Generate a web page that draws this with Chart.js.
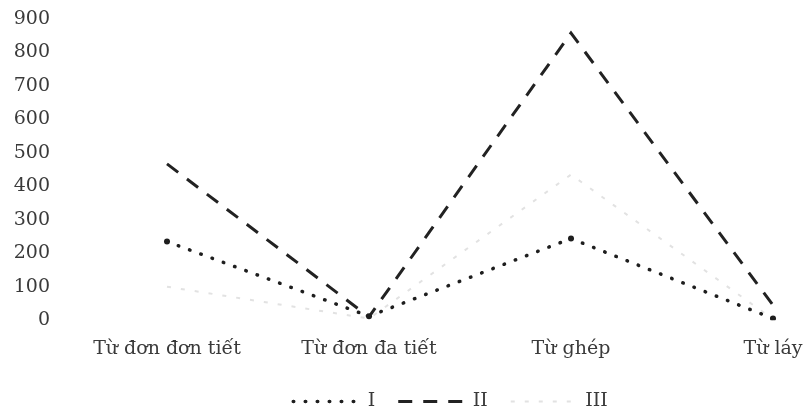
<!DOCTYPE html>
<html>
<head>
<meta charset="utf-8">
<script src="https://cdn.jsdelivr.net/npm/chart.js@4"></script>
<style>
  html, body { margin: 0; padding: 0; background: #ffffff; }
  #wrap { width: 803px; height: 412px; }
</style>
</head>
<body>
<div id="wrap"><canvas id="c" width="803" height="412"></canvas></div>
<script>
const categories = ['Từ đơn đơn tiết', 'Từ đơn đa tiết', 'Từ ghép', 'Từ láy'];
const seriesNames = ['I', 'II', 'III'];
const seriesI = [235, 12, 244, 5];
const seriesII = [467, 10, 858, 45];
const seriesIII = [100, 5, 435, 3];
const yTicks = [0, 100, 200, 300, 400, 500, 600, 700, 800, 900];

const textColor = '#3a3a3a';
const serif = 'DejaVu Serif';

const legendShift = {
  id: 'legendShift',
  afterLayout(chart) {
    const l = chart.legend;
    if (l) { l.left += 43; l.right += 43; l.top -= 8; l.bottom -= 8; }
  }
};

new Chart(document.getElementById('c'), {
  type: 'line',
  data: {
    labels: categories,
    datasets: [
      {
        label: seriesNames[0],
        data: seriesI,
        borderColor: '#1e1e1e',
        backgroundColor: '#1e1e1e',
        borderWidth: 3.5,
        borderDash: [0.5, 11.5],
        borderCapStyle: 'round',
        pointRadius: 3,
        pointBorderWidth: 0,
        pointBackgroundColor: '#1e1e1e',
        tension: 0,
        fill: false
      },
      {
        label: seriesNames[1],
        data: seriesII,
        borderColor: '#222222',
        backgroundColor: '#222222',
        borderWidth: 3,
        borderDash: [14, 11],
        borderCapStyle: 'butt',
        pointRadius: 0,
        tension: 0,
        fill: false
      },
      {
        label: seriesNames[2],
        data: seriesIII,
        borderColor: '#e2e2e2',
        backgroundColor: '#e2e2e2',
        borderWidth: 2,
        borderDash: [4, 10],
        borderCapStyle: 'butt',
        pointRadius: 0,
        tension: 0,
        fill: false
      }
    ]
  },
  options: {
    responsive: false,
    devicePixelRatio: 1,
    animation: false,
    layout: { padding: { top: 19, left: 12, right: 0, bottom: -17 } },
    scales: {
      x: {
        offset: false,
        grid: { display: false, drawTicks: false },
        border: { display: false },
        afterFit(scale) { scale.paddingLeft = 0; scale.paddingRight = 30; },
        ticks: {
          color: textColor,
          font: { family: serif, size: 19 },
          padding: 17,
          maxRotation: 0,
          autoSkip: false
        }
      },
      y: {
        min: 0,
        max: 900,
        afterBuildTicks(scale) { scale.ticks = yTicks.map(v => ({ value: v })); },
        afterFit(scale) { scale.width = 155; scale.paddingTop = 10; scale.paddingBottom = 10; },
        grid: { display: false, drawTicks: false },
        border: { display: false },
        ticks: {
          color: textColor,
          font: { family: serif, size: 19 },
          padding: 117
        }
      }
    },
    plugins: {
      legend: {
        position: 'bottom',
        labels: {
          color: textColor,
          font: { family: serif, size: 19 },
          usePointStyle: true,
          pointStyle: 'line',
          pointStyleWidth: 65,
          padding: 23,
          generateLabels(chart) {
            const items = Chart.defaults.plugins.legend.labels.generateLabels(chart);
            items.forEach(it => {
              const ds = chart.data.datasets[it.datasetIndex];
              it.lineWidth = ds.borderWidth;
              it.lineDash = ds.borderDash;
              it.lineCap = ds.borderCapStyle;
              it.strokeStyle = ds.borderColor;
              it.pointStyle = 'line';
            });
            return items;
          }
        }
      },
      tooltip: { enabled: false }
    }
  },
  plugins: [legendShift]
});
</script>
</body>
</html>
